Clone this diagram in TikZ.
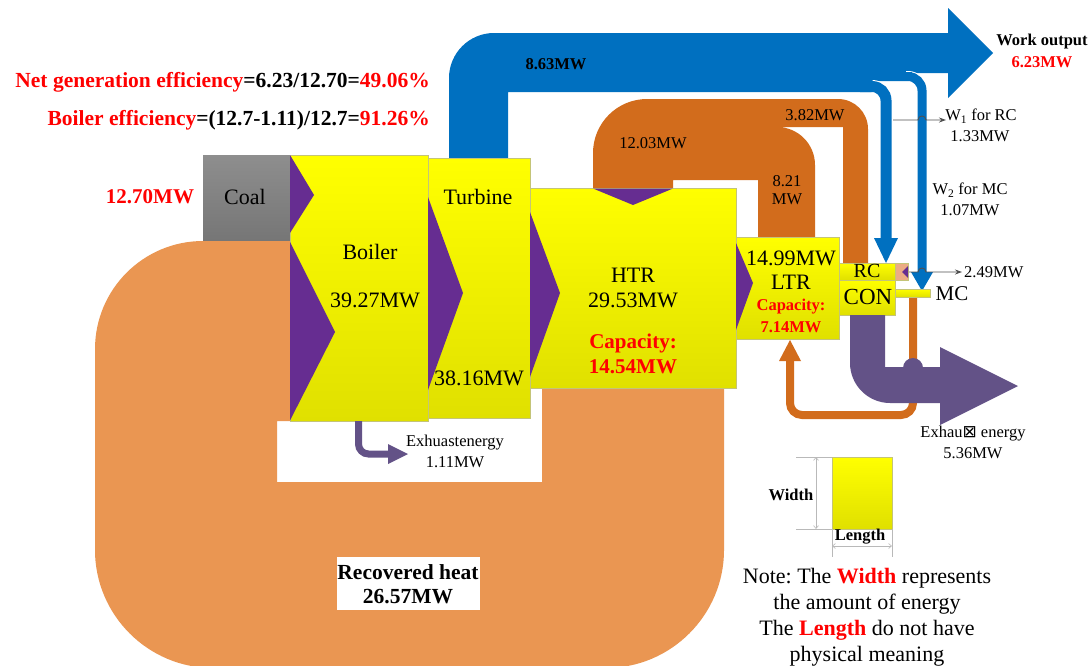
\documentclass[tikz,border=0pt]{standalone}
\usepackage{fontspec}
\setmainfont{Liberation Serif}
\newfontfamily\djvfont{DejaVu Sans}
\usetikzlibrary{arrows.meta}
\frenchspacing
\definecolor{lorange}{RGB}{234,150,82}
\definecolor{dorange}{RGB}{210,108,28}
\definecolor{bluep}{RGB}{0,112,192}
\definecolor{chev}{RGB}{102,45,145}
\definecolor{exhp}{RGB}{99,82,135}
\definecolor{ytop}{RGB}{255,255,0}
\definecolor{ybot}{RGB}{224,224,0}
\definecolor{yedge}{RGB}{196,196,120}
\definecolor{ctop}{RGB}{142,142,142}
\definecolor{cbot}{RGB}{118,118,118}
\definecolor{peach}{RGB}{236,172,132}
\definecolor{txtred}{RGB}{255,0,0}
\definecolor{lgray}{RGB}{80,80,80}
\definecolor{dimgray}{RGB}{185,185,185}
\newcommand\mysz[1]{\fontsize{#1}{#1}\selectfont}
\tikzset{
  ybox/.style={top color=ytop, bottom color=ybot, draw=yedge, line width=0.6pt},
  cbox/.style={top color=ctop, bottom color=cbot, draw=none},
  t/.style={inner sep=0pt, text=black},
  glin/.style={draw=lgray, line width=0.9pt, -{Stealth[length=7pt,width=5pt]}},
  dimln/.style={draw=dimgray, line width=0.6pt},
  dimarr/.style={draw=dimgray, line width=0.6pt, {Straight Barb[length=3pt,width=5pt]}-{Straight Barb[length=3pt,width=5pt]}}
}
\begin{document}
\begin{tikzpicture}[x=1pt,y=-1pt]
\useasboundingbox (0,0) rectangle (1092,665);
\fill[white] (0,0) rectangle (1092,665);

% recovered heat (light orange)
\fill[lorange] (290,241) -- (203,241) .. controls (143.4,241) and (95,289.4) .. (95,349)
  -- (95,550) .. controls (95,615) and (148,668) .. (213,668)
  -- (606,668) .. controls (671,668) and (724,615) .. (724,550)
  -- (724,388) -- (542,388) -- (542,482) -- (277,482) -- (277,421) -- (290,421) -- cycle;

% blue work pipe
\fill[bluep] (449,158) -- (449,78) .. controls (449,53.2) and (469.2,33) .. (494,33)
  -- (948,33) -- (948,8) -- (993,53) -- (948,98) -- (948,73) -- (873,73) -- (873,92)
  -- (508,92) -- (508,158) -- cycle;
\draw[white, line width=11pt] (906,76.5) -- (908,76.5) .. controls (915.7,76.5) and (922,82.8) .. (922,90.5) -- (922,273);
\draw[bluep, line width=9pt] (870,76.5) -- (908,76.5) .. controls (915.7,76.5) and (922,82.8) .. (922,90.5) -- (922,273);
\fill[bluep] (870,72) rectangle (912,76);
\draw[white, line width=13pt] (872,86.5) .. controls (879.7,86.5) and (886,92.8) .. (886,100.5) -- (886,240);
\draw[bluep, line width=11pt] (860,86.5) -- (872,86.5) .. controls (879.7,86.5) and (886,92.8) .. (886,100.5) -- (886,240);
\fill[bluep] (874,238) -- (898,238) -- (886,263) -- cycle;
\fill[bluep] (911,272) -- (933,272) -- (922,291) -- cycle;

% dark orange pipes
\fill[dorange] (593,188) -- (593,153) .. controls (593,123.2) and (617.2,99) .. (647,99)
  -- (838,99) .. controls (854.6,99) and (868,112.4) .. (868,129)
  -- (868,263) -- (843,263) -- (843,127) -- (777,127) .. controls (798,127) and (815,144) .. (815,165)
  -- (815,237) -- (758,237) -- (758,180) -- (673,180) -- (673,188) -- cycle;

% thin orange loop MC -> LTR
\draw[dorange, line width=8pt, rounded corners=12pt] (913,297) -- (913,415) -- (790,415) -- (790,358);
\fill[dorange] (779,361) -- (801,361) -- (790,340) -- cycle;

% boxes
\path[cbox] (203,155) rectangle (290,240);
\path[ybox] (290,155) rectangle (428,421);
\path[ybox] (428,158) rectangle (530,418);
\path[ybox] (530,188) rectangle (736,388);
\path[ybox] (736,237) rectangle (839,339);
\path[ybox] (839,263) rectangle (895,280);
\path[ybox] (839,280) rectangle (895,315);
\fill[peach, draw=yedge, line width=0.6pt] (895,263) rectangle (908,280);
\path[ybox] (895,289) rectangle (930,297);

% chevrons
\fill[chev] (290,155) -- (314,195) -- (290,233) -- cycle;
\fill[chev] (290,242) -- (335,332) -- (290,420.5) -- cycle;
\fill[chev] (428,197) -- (463,293) -- (428,390) -- cycle;
\fill[chev] (530,212) -- (560,293) -- (530,377) -- cycle;
\fill[chev] (736,243) -- (753,283) -- (736,330) -- cycle;
\fill[chev] (593,188.5) -- (633,205) -- (673,188.5) -- cycle;
\fill[chev] (908,266) -- (908,278) -- (902,272) -- cycle;

% exhaust from condenser
\fill[exhp] (850,315) -- (850,363) .. controls (850,385) and (868,403) .. (890,403)
  -- (940,403) -- (940,425) -- (1018,386) -- (940,347) -- (940,367) -- (885,367) -- (885,315) -- cycle;
\fill[exhp] (913,368) circle[radius=10pt];

% boiler exhaust
\draw[exhp, line width=7pt, rounded corners=10pt] (358.5,421) -- (358.5,454) -- (392,454);
\fill[exhp] (388,444) -- (388,464) -- (408,454) -- cycle;

% gray connectors
\coordinate (w1a) at (893,120);
\coordinate (w1b) at (946,120);
\draw[glin] (w1a) -- (918,120) .. controls (918,114.7) and (926,114.7) .. (926,120) -- (w1b);
\coordinate (ra) at (909,272);
\coordinate (rb) at (962,272);
\draw[glin] (ra) -- (918,272) .. controls (918,266.7) and (926,266.7) .. (926,272) -- (rb);

% legend
\path[ybox] (832,457) rectangle (892,529);
\draw[dimln] (796,457) -- (832,457);
\draw[dimln] (796,529) -- (832,529);
\draw[dimarr] (816,457) -- (816,529);
\draw[dimln] (832,529) -- (832,557);
\draw[dimln] (892,529) -- (892,557);
\draw[dimarr] (832,546) -- (892,546);

% recovered heat label box
\fill[white] (337,557) rectangle (480,610);

% texts
\node[t, anchor=east, font=\mysz{21.5}\bfseries] (neteff) at (430,82) {\textcolor{txtred}{Net generation efficiency}=6.23/12.70=\textcolor{txtred}{49.06\%}};
\node[t, anchor=east, font=\mysz{21.5}\bfseries] (boileff) at (430,120) {\textcolor{txtred}{Boiler efficiency}=(12.7-1.11)/12.7=\textcolor{txtred}{91.26\%}};
\node[t, font=\mysz{21}\bfseries, text=txtred] (coalmw) at (150,197) {12.70MW};
\node[t, font=\mysz{22}] (coal) at (245,197) {Coal};
\node[t, font=\mysz{22}] (boiler) at (370,252) {Boiler};
\node[t, font=\mysz{22}] (boilermw) at (375,300) {39.27MW};
\node[t, font=\mysz{22}] (turbine) at (478,197) {Turbine};
\node[t, font=\mysz{22}] (turbmw) at (479,378) {38.16MW};
\node[t, font=\mysz{22}] (htr) at (633,275) {HTR};
\node[t, font=\mysz{22}] (htrmw) at (633,300) {29.53MW};
\node[t, font=\mysz{21}\bfseries, text=txtred] (htrcap) at (633,343) {Capacity:};
\node[t, font=\mysz{21}\bfseries, text=txtred] (htrcapmw) at (633,367) {14.54MW};
\node[t, font=\mysz{22}] (ltrmw) at (791,258) {14.99MW};
\node[t, font=\mysz{22}] (ltr) at (791,282) {LTR};
\node[t, font=\mysz{16.5}\bfseries, text=txtred] (ltrcap) at (791,307) {Capacity:};
\node[t, font=\mysz{16.5}\bfseries, text=txtred] (ltrcapmw) at (791,327) {7.14MW};
\node[t, font=\mysz{20}] (rc) at (867,271) {RC};
\node[t, font=\mysz{23}] (con) at (868,297) {CON};
\node[t, font=\mysz{21}] (mc) at (952,294) {MC};
\node[t, font=\mysz{16.5}\bfseries] (wmw) at (556,64) {8.63MW};
\node[t, font=\mysz{16.5}\bfseries] (wout) at (1042,42) {Work output};
\node[t, font=\mysz{16.5}\bfseries, text=txtred] (woutmw) at (1042,62) {6.23MW};
\node[t, font=\mysz{16.5}] (w1) at (981,116) {W\textsubscript{1} for RC};
\node[t, font=\mysz{16.5}] (w1mw) at (980,136) {1.33MW};
\node[t, font=\mysz{16.5}] (w2) at (970,190) {W\textsubscript{2} for MC};
\node[t, font=\mysz{16.5}] (w2mw) at (970,210) {1.07MW};
\node[t, font=\mysz{16.5}, anchor=west] (rcmw) at (964,272) {2.49MW};
\node[t, font=\mysz{16.5}] (o382) at (815,115) {3.82MW};
\node[t, font=\mysz{16.5}] (o1203) at (653,143) {12.03MW};
\node[t, font=\mysz{16.5}] (o821a) at (787,181) {8.21};
\node[t, font=\mysz{16.5}] (o821b) at (787,199) {MW};
\node[t, font=\mysz{16.5}] (exh) at (973,434) {Exhau{\djvfont\mysz{17}⊠} energy};
\node[t, font=\mysz{16.5}] (exhmw) at (973,453) {5.36MW};
\node[t, font=\mysz{16.5}] (bexh) at (455,443) {Exhuastenergy};
\node[t, font=\mysz{16.5}] (bexhmw) at (455,462) {1.11MW};
\node[t, font=\mysz{21.5}\bfseries] (rec) at (408,572) {Recovered heat};
\node[t, font=\mysz{21.5}\bfseries] (recmw) at (408,597) {26.57MW};
\node[t, font=\mysz{16.5}\bfseries] (lw) at (791,495) {Width};
\node[t, font=\mysz{16.5}\bfseries] (ll) at (860,537) {Length};
\node[t, font=\mysz{22}] (n1) at (867,578) {Note: The \textcolor{txtred}{\bfseries Width} represents};
\node[t, font=\mysz{22}] (n2) at (867,604) {the amount of energy};
\node[t, font=\mysz{22}] (n3) at (867,630) {The \textcolor{txtred}{\bfseries Length} do not have};
\node[t, font=\mysz{22}] (n4) at (867,656) {physical meaning};
\end{tikzpicture}
\end{document}
